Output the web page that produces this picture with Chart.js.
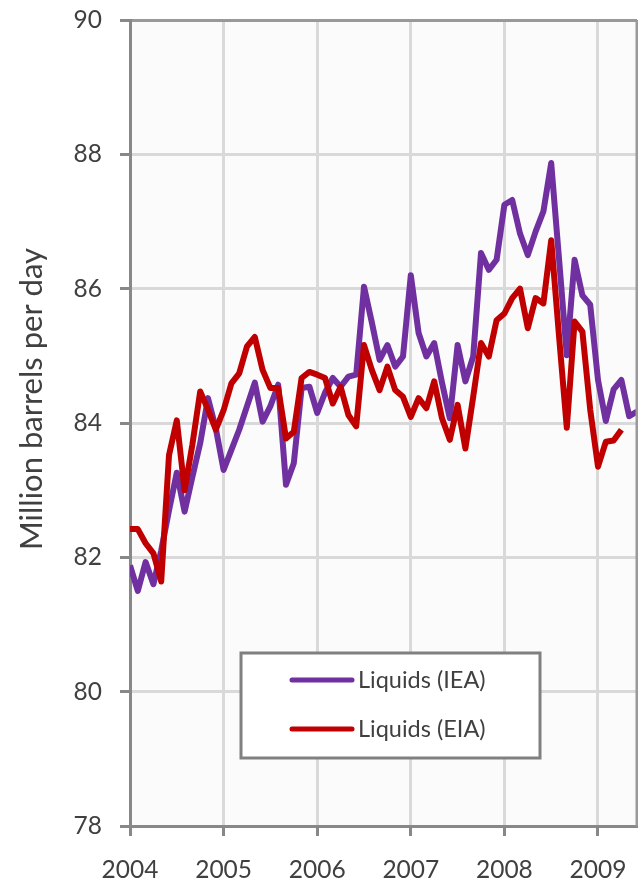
<!DOCTYPE html>
<html>
<head>
<meta charset="utf-8">
<script src="https://cdn.jsdelivr.net/npm/chart.js@4.4.0/dist/chart.umd.min.js"></script>
<style>
  html, body { margin: 0; padding: 0; background: #ffffff; }
  #wrap { width: 638px; height: 884px; }
</style>
</head>
<body>
<div id="wrap"><canvas id="liquidsChart" width="638" height="884"></canvas></div>
<script>
// 월별 데이터 (2004년 1월부터)
const startYear = 2004;
const yearLabels = ['2004', '2005', '2006', '2007', '2008', '2009'];
const seriesNames = ['Liquids (IEA)', 'Liquids (EIA)'];

const ieaValues = [
    81.88, 81.50, 81.93, 81.60, 82.10, 82.70, 83.26, 82.68, 83.20, 83.70, 84.37, 83.92,
    83.30, 83.60, 83.90, 84.25, 84.60, 84.02, 84.25, 84.57, 83.08, 83.40, 84.52, 84.54,
    84.15, 84.45, 84.67, 84.54, 84.69, 84.72, 86.03, 85.50, 84.94, 85.16, 84.84, 84.99,
    86.20, 85.34, 84.99, 85.19, 84.60, 84.07, 85.16, 84.62, 84.99, 86.53, 86.28, 86.43,
    87.25, 87.32, 86.82, 86.50, 86.85, 87.15, 87.87, 86.45, 85.01, 86.43, 85.90, 85.76,
    84.64, 84.03, 84.50, 84.64, 84.10, 84.17
];
const eiaValues = [
    82.42, 82.42, 82.21, 82.06, 81.64, 83.52, 84.04, 83.00, 83.68, 84.47, 84.20, 83.90,
    84.19, 84.59, 84.74, 85.14, 85.28, 84.79, 84.52, 84.52, 83.77, 83.87, 84.67, 84.76,
    84.72, 84.67, 84.29, 84.54, 84.12, 83.95, 85.16, 84.79, 84.49, 84.84, 84.49, 84.39,
    84.09, 84.37, 84.22, 84.62, 84.07, 83.75, 84.27, 83.62, 84.39, 85.19, 84.99, 85.53,
    85.63, 85.86, 86.00, 85.41, 85.86, 85.78, 86.72, 85.30, 83.93, 85.51, 85.36, 84.20,
    83.35, 83.72, 83.74, 83.90
];

const textColor = '#404040';
const fontFamily = 'Lato, "Open Sans", sans-serif';

function toPoints(values) {
    return values.map(function(v, i) { return { x: startYear + i / 12, y: v }; });
}

// 플롯 배경, 오른쪽 테두리, 축 제목, 범례
const decorPlugin = {
    id: 'decor',
    beforeDraw: function(chart) {
        const a = chart.chartArea;
        const ctx = chart.ctx;
        ctx.save();
        ctx.fillStyle = '#fbfbfb';
        ctx.fillRect(a.left, a.top, a.right - a.left, a.bottom - a.top);
        ctx.restore();
    },
    afterDraw: function(chart) {
        const a = chart.chartArea;
        const ctx = chart.ctx;
        ctx.save();
        // 오른쪽 테두리
        ctx.strokeStyle = '#9a9a9a';
        ctx.lineWidth = 3;
        ctx.beginPath();
        ctx.moveTo(a.right, a.top);
        ctx.lineTo(a.right, a.bottom);
        ctx.stroke();

        // y축 제목
        ctx.fillStyle = textColor;
        ctx.font = '31px ' + fontFamily;
        ctx.textAlign = 'center';
        ctx.textBaseline = 'middle';
        ctx.translate(32, 399);
        ctx.rotate(-Math.PI / 2);
        ctx.fillText('Million barrels per day', 0, 0);
        ctx.restore();

        // 범례
        ctx.save();
        ctx.fillStyle = '#ffffff';
        ctx.fillRect(241, 653, 299, 105);
        ctx.strokeStyle = '#808080';
        ctx.lineWidth = 3;
        ctx.strokeRect(241, 653, 299, 105);
        const rows = [680, 729];
        const colors = ['#7030a0', '#c00000'];
        ctx.font = '23.5px ' + fontFamily;
        ctx.textAlign = 'left';
        ctx.textBaseline = 'middle';
        for (let k = 0; k < 2; k++) {
            ctx.strokeStyle = colors[k];
            ctx.lineWidth = 5;
            ctx.lineCap = 'round';
            ctx.beginPath();
            ctx.moveTo(292, rows[k]);
            ctx.lineTo(352, rows[k]);
            ctx.stroke();
            ctx.fillStyle = textColor;
            ctx.fillText(seriesNames[k], 358, rows[k]);
        }
        ctx.restore();
    }
};

document.addEventListener('DOMContentLoaded', function() {
    const ctx = document.getElementById('liquidsChart').getContext('2d');
    const liquidsChart = new Chart(ctx, {
        type: 'line',
        data: {
            datasets: [
                {
                    label: seriesNames[0],
                    data: toPoints(ieaValues),
                    borderColor: '#7030a0',
                    borderWidth: 6,
                    pointRadius: 0,
                    tension: 0,
                    borderJoinStyle: 'round',
                    order: 2
                },
                {
                    label: seriesNames[1],
                    data: toPoints(eiaValues),
                    borderColor: '#c00000',
                    borderWidth: 6,
                    pointRadius: 0,
                    tension: 0,
                    borderJoinStyle: 'round',
                    order: 1
                }
            ]
        },
        options: {
            responsive: false,
            animation: false,
            devicePixelRatio: 1,
            layout: {
                padding: { top: 20, right: 1, left: 0, bottom: 0 }
            },
            scales: {
                x: {
                    type: 'linear',
                    min: 2004,
                    max: 2004 + 65 / 12,
                    afterBuildTicks: function(scale) {
                        scale.ticks = yearLabels.map(function(y) { return { value: Number(y) }; });
                    },
                    afterFit: function(scale) {
                        scale.height = 58;
                        scale.paddingLeft = 0;
                        scale.paddingRight = 0;
                    },
                    ticks: {
                        callback: function(value) { return String(value); },
                        color: textColor,
                        font: { family: fontFamily, size: 24.5 },
                        padding: 19,
                        maxRotation: 0
                    },
                    grid: {
                        color: '#d9d9d9',
                        lineWidth: 3,
                        tickLength: 10,
                        tickColor: '#888888',
                        tickWidth: 3
                    },
                    border: { color: '#888888', width: 3 }
                },
                y: {
                    min: 78,
                    max: 90,
                    afterFit: function(scale) {
                        scale.width = 130;
                        scale.paddingTop = 0;
                        scale.paddingBottom = 0;
                    },
                    ticks: {
                        stepSize: 2,
                        color: textColor,
                        font: { family: fontFamily, size: 24.5 },
                        padding: 18
                    },
                    grid: {
                        color: function(c) { return c.tick && c.tick.value === 90 ? '#999999' : '#d9d9d9'; },
                        lineWidth: 3,
                        tickLength: 10,
                        tickColor: '#888888',
                        tickWidth: 3
                    },
                    border: { color: '#888888', width: 3 }
                }
            },
            plugins: {
                legend: { display: false },
                title: { display: false },
                tooltip: { enabled: false }
            }
        },
        plugins: [decorPlugin]
    });
});
</script>
</body>
</html>
